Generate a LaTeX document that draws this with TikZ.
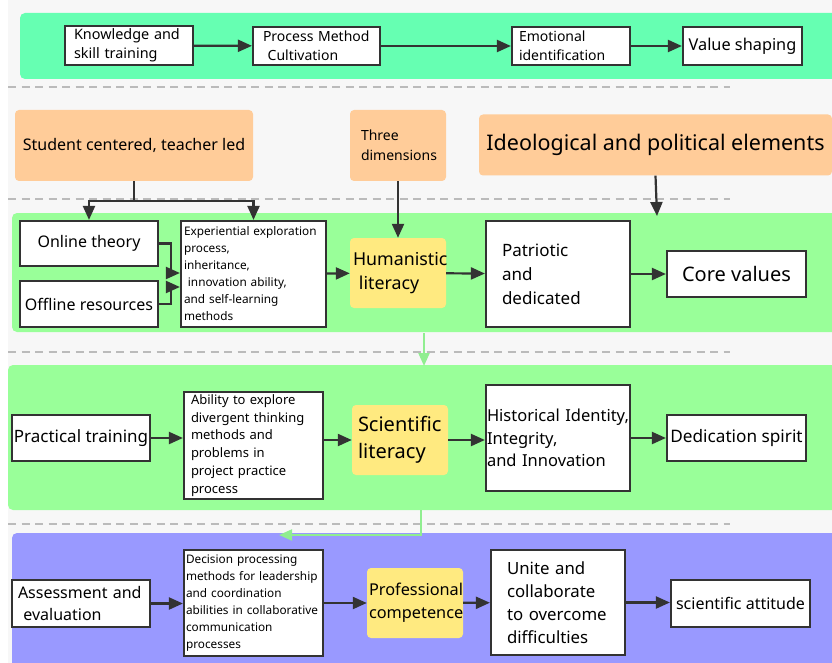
\documentclass[tikz,border=0pt]{standalone}
\usepackage{fontspec}
\setmainfont{Noto Sans}
\usetikzlibrary{arrows.meta, calc}

\definecolor{paper}{HTML}{F7F7F7}
\definecolor{mint}{HTML}{66FFB2}
\definecolor{leaf}{HTML}{99FF99}
\definecolor{lilac}{HTML}{9999FF}
\definecolor{peach}{HTML}{FFCC99}
\definecolor{butter}{HTML}{FFEA80}
\definecolor{ink}{HTML}{333333}
\definecolor{rulegrey}{HTML}{BBBBBB}
\definecolor{linkgreen}{HTML}{90EE90}

\tikzset{
  stepbox/.style={draw=ink, line width=2.2pt, fill=white, inner sep=3pt},
  themebox/.style={fill=peach, rounded corners=4pt, inner sep=3pt},
  litbox/.style={fill=butter, rounded corners=4pt, inner sep=3pt, align=left},
  flow/.style={draw=ink, line width=2.2pt, -{Triangle[length=14pt,width=12pt]}},
  link/.style={draw=linkgreen, line width=2pt, -{Triangle[length=13pt,width=11pt]}},
  divider/.style={draw=rulegrey, line width=1.5pt, dash pattern=on 8pt off 5.5pt},
}

\begin{document}
\begin{tikzpicture}[x=1pt, y=-1pt]
  \useasboundingbox (0,0) rectangle (832,663);
  \fill[white] (0,0) rectangle (832,663);
  \fill[paper] (8,0) rectangle (832,663);

  % bands
  \begin{scope}[rounded corners=5pt]
    \fill[mint] (20,13) rectangle (850,79);
    \fill[leaf] (12,213) rectangle (850,332);
    \fill[leaf] (8,365) rectangle (850,510);
    \fill[lilac] (12,533) rectangle (850,690);
  \end{scope}

  % dividers
  \foreach \y in {87,199,352,524}
    \draw[divider] (8,\y) -- (730,\y);

  % goals
  \begin{scope}[font=\fontsize{14}{19}\selectfont]
    \node[stepbox, text width=110pt, minimum height=39pt, inner xsep=9pt, align=left, font=\fontsize{14.4}{19}\selectfont] (kst) at (129,45.5) {Knowledge and\\skill training};
    \node[stepbox, text width=107pt, minimum height=38pt, inner xsep=10pt, align=left] (pmc) at (316.5,46) {Process Method\\\ Cultivation};
    \node[stepbox, text width=104pt, minimum height=38pt, inner xsep=7pt, align=left] (emo) at (571,46) {Emotional\\identification};
    \node[stepbox, minimum width=119pt, minimum height=38pt, font=\fontsize{16.3}{19}\selectfont] (val) at (742.5,46) {Value shaping};
  \end{scope}

  \draw[flow] (kst) -- (pmc);
  \draw[flow] (pmc) -- (emo);
  \draw[flow] (emo) -- (val);

  % guiding ideas
  \node[themebox, minimum width=238pt, minimum height=71pt, font=\fontsize{16}{20}\selectfont] (stu) at (134,145.5) {Student centered, teacher led};
  \node[themebox, text width=74pt, minimum height=71pt, inner xsep=11pt, align=left, font=\fontsize{14}{20}\selectfont] (three) at (398,145.5) {Three\\dimensions};
  \node[themebox, minimum width=353pt, minimum height=61pt, font=\fontsize{21.5}{24}\selectfont] (ideo) at (655.5,145) {Ideological and political elements};
  \coordinate (ideoend) at (657,216);

  % humanistic row
  \node[stepbox, minimum width=138pt, minimum height=45pt, font=\fontsize{16}{20}\selectfont] (onl) at (89,243.5) {Online theory};
  \node[stepbox, minimum width=138pt, minimum height=46pt, font=\fontsize{16}{20}\selectfont] (off) at (89,304) {Offline resources};
  \node[stepbox, text width=139pt, minimum height=106pt, inner ysep=0pt, align=left, font=\fontsize{11.8}{17}\selectfont] (exp) at (253.5,274) {Experiential exploration\\process,\\inheritance,\\\ innovation ability,\\and self-learning\\methods};
  \node[litbox, text width=90pt, minimum height=70pt, font=\fontsize{17.8}{24}\selectfont] (hum) at (398,273) {Humanistic\\\ literacy};
  \node[stepbox, text width=112pt, minimum height=106pt, inner xsep=16pt, align=left, font=\fontsize{17}{24}\selectfont] (pat) at (558,274) {Patriotic\\and\\dedicated};
  \node[stepbox, minimum width=139pt, minimum height=46pt, font=\fontsize{20}{24}\selectfont] (core) at (736.5,274) {Core values};

  \draw[line width=2.2pt, draw=ink] (stu.south) -- ++(0,20) coordinate (split);
  \draw[flow] (split) -| (onl.north);
  \draw[flow] (split) -| (exp.north);
  \draw[flow] (three) -- (hum);
  \draw[flow] (ideo.south) -- (ideoend);
  \draw[flow] (onl.east) -- ++(12,0) |- ([yshift=1pt]exp.west);
  \draw[flow] (off.east) -- ++(12,0) |- ([yshift=-13pt]exp.west);
  \draw[flow] (exp) -- (hum);
  \draw[flow] (hum) -- (pat);
  \draw[flow] (pat) -- (core);

  % scientific row
  \node[stepbox, minimum width=138pt, minimum height=46pt, inner xsep=1pt, font=\fontsize{17}{20}\selectfont] (pra) at (81,438) {Practical training};
  \node[stepbox, text width=125pt, minimum height=107pt, inner xsep=7pt, inner ysep=0pt, align=left, font=\fontsize{13}{17.8}\selectfont] (abi) at (253.5,445.5) {Ability to explore\\divergent thinking\\methods and\\problems in\\project practice\\process};
  \node[litbox, text width=84pt, minimum height=70pt, inner xsep=6pt, font=\fontsize{20}{27}\selectfont] (sci) at (400,440) {Scientific\\literacy};
  \node[stepbox, text width=142pt, minimum height=106pt, inner xsep=1pt, align=left, font=\fontsize{16.5}{22.5}\selectfont] (his) at (558,438) {Historical Identity,\\Integrity,\\and Innovation};
  \node[stepbox, minimum width=139pt, minimum height=46pt, font=\fontsize{17.2}{20}\selectfont] (ded) at (736.5,438) {Dedication spirit};

  \draw[flow] (pra.east) -- (pra.east -| abi.west);
  \draw[flow] (sci.west -| abi.east) -- (sci.west);
  \draw[flow] (sci.east) -- (sci.east -| his.west);
  \draw[flow] (his) -- (ded);

  % professional row
  \node[stepbox, text width=126pt, minimum height=47pt, inner xsep=6pt, align=left, font=\fontsize{16}{22}\selectfont] (ass) at (81,603.5) {Assessment and\\\ evaluation};
  \node[stepbox, text width=135pt, minimum height=106pt, inner xsep=2pt, inner ysep=0pt, align=left, font=\fontsize{11.8}{17}\selectfont] (dec) at (253.5,603) {Decision processing\\methods for leadership\\and coordination\\abilities in collaborative\\communication\\processes};
  \node[litbox, text width=92pt, minimum height=70pt, inner xsep=2pt, font=\fontsize{16.3}{23}\selectfont] (pro) at (415,603) {Professional\\competence};
  \node[stepbox, text width=102pt, minimum height=105pt, inner xsep=16pt, align=left, font=\fontsize{16.8}{23}\selectfont] (uni) at (558,602.5) {Unite and\\collaborate\\to overcome\\difficulties};
  \node[stepbox, minimum width=139pt, minimum height=47pt, font=\fontsize{16}{20}\selectfont] (sat) at (740.5,603.5) {scientific attitude};

  \draw[flow] (ass.east) -- (ass.east -| dec.west);
  \draw[flow] (dec.east |- pro.west) -- (pro.west);
  \draw[flow] (pro) -- (uni);
  \draw[flow] (uni.east) -- (uni.east -| sat.west);

  % links between rows
  \coordinate (hlink) at (424,333);
  \coordinate (hlinkend) at (424,366);
  \coordinate (slink) at (421,510);
  \coordinate (slinkend) at (279,535);
  \draw[link] (hlink) -- (hlinkend);
  \draw[link] (slink) |- (slinkend);
\end{tikzpicture}
\end{document}
